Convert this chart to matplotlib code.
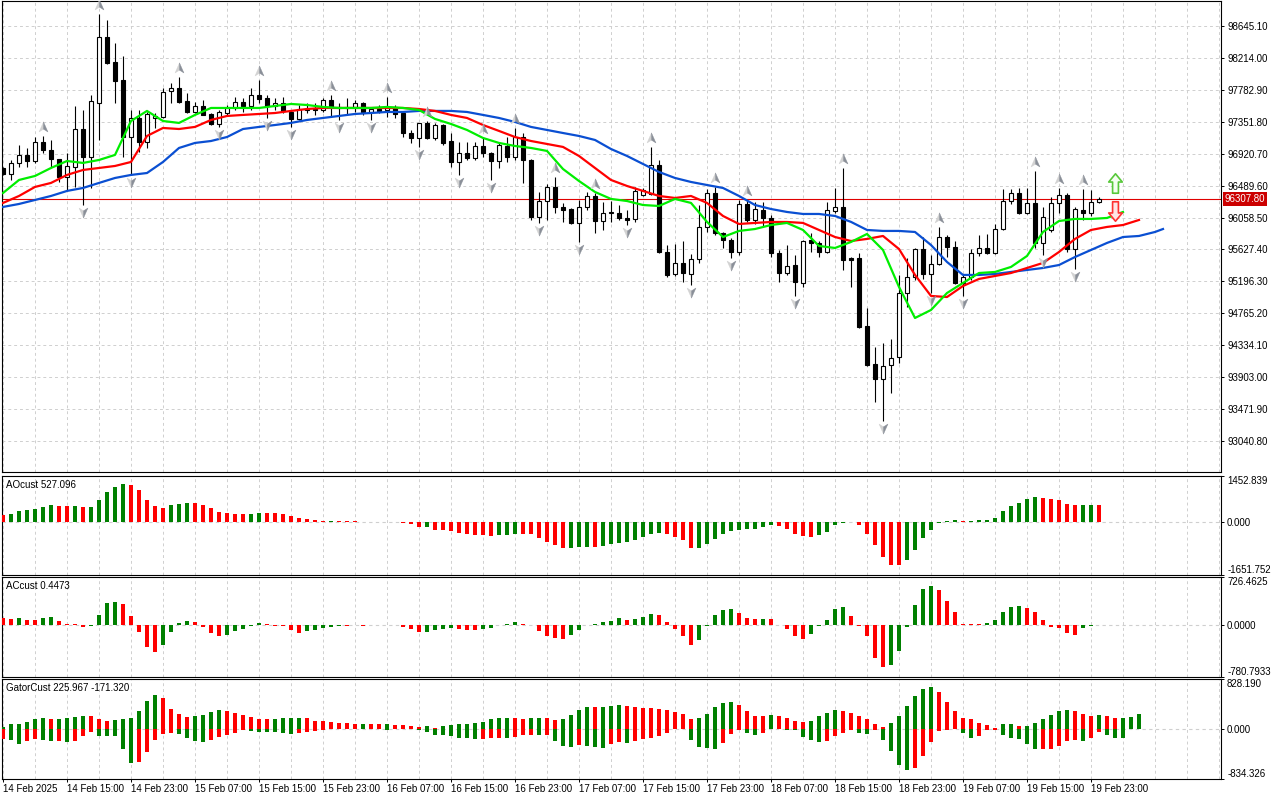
import numpy as np
import matplotlib
matplotlib.use("Agg")
import matplotlib.pyplot as plt
import matplotlib.transforms as mtransforms
from matplotlib.path import Path

plt.rcParams['font.family'] = ['Liberation Sans', 'DejaVu Sans']
plt.rcParams['font.size'] = 7

# ---------------- data (hourly candles, 14 Feb 2025 -> 20 Feb 2025) ----------------
opens = [96728, 96647, 96796, 96904, 96823, 97079, 96971, 96850, 96607, 96742,
         97255, 96877, 97606, 98497, 98159, 97916, 97147, 97403, 97079, 97403,
         97416, 97768, 97808, 97633, 97484, 97565, 97457, 97322, 97470, 97538,
         97619, 97565, 97714, 97673, 97565, 97606, 97484, 97390, 97511, 97524,
         97511, 97646, 97552, 97538, 97552, 97606, 97484, 97524, 97511, 97552,
         97470, 97200, 97133, 97336, 97133, 97308, 97092, 96809, 96931, 96863,
         97025, 96931, 96823, 97025, 96877, 97147, 96836, 96066, 96282, 96472,
         96202, 96174, 95986, 96202, 96350, 96012, 96120, 96120, 96053, 96040,
         96364, 96377, 96768, 95594, 95297, 95446, 95297, 95500, 95932, 96390,
         95850, 95756, 95594, 96242, 96026, 96161, 96053, 95580, 95310, 95418,
         95176, 95756, 95716, 95594, 96148, 96202, 95513, 95513, 94595, 94082,
         93880, 94068, 94176, 95040, 95256, 95634, 95297, 95432, 95796, 95662,
         95176, 95256, 95580, 95648, 95580, 95904, 96282, 96390, 96120, 96256,
         95716, 95891, 96256, 96364, 95634, 96161, 96120, 96269]
highs = [96742, 96836, 97039, 96998, 97147, 97160, 97106, 96850, 96931, 97565,
         97511, 97714, 98807, 98726, 98416, 98240, 97511, 97511, 97484, 97470,
         97808, 97876, 97956, 97740, 97619, 97646, 97470, 97511, 97578, 97686,
         97673, 97808, 97916, 97714, 97673, 97686, 97511, 97578, 97606, 97606,
         97673, 97714, 97606, 97673, 97646, 97619, 97552, 97578, 97686, 97578,
         97484, 97241, 97336, 97362, 97336, 97322, 97200, 97079, 97079, 97079,
         97133, 96944, 97079, 97147, 97268, 97200, 96850, 96404, 96512, 96607,
         96256, 96188, 96296, 96404, 96390, 96269, 96282, 96229, 96161, 96472,
         96458, 97012, 96836, 95688, 95702, 95742, 95567, 96228, 96444, 96472,
         95864, 95783, 96296, 96296, 96269, 96269, 96094, 95621, 95688, 95554,
         95756, 95850, 95742, 96269, 96458, 96728, 95526, 95580, 94838, 94312,
         94366, 94420, 95284, 95513, 95648, 95796, 95554, 95932, 95824, 95742,
         95297, 95634, 95824, 95837, 95972, 96444, 96444, 96458, 96458, 96688,
         96202, 96336, 96458, 96390, 96202, 96444, 96431, 96336]
lows = [96634, 96566, 96742, 96742, 96796, 96931, 96742, 96539, 96431, 96472,
        96229, 96458, 97106, 98132, 97606, 96877, 96634, 96944, 96998, 97268,
        97403, 97606, 97606, 97470, 97470, 97444, 97308, 97282, 97444, 97511,
        97484, 97511, 97606, 97403, 97511, 97470, 97282, 97376, 97470, 97444,
        97484, 97416, 97376, 97444, 97484, 97444, 97376, 97470, 97416, 97403,
        97147, 97066, 97012, 97120, 97106, 97039, 96742, 96634, 96836, 96836,
        96877, 96566, 96728, 96809, 96836, 96526, 96026, 95986, 96026, 96120,
        95999, 95972, 95729, 96161, 95850, 95891, 95999, 96026, 95958, 95999,
        96350, 96364, 95580, 95256, 95270, 95189, 95148, 95446, 95864, 95824,
        95648, 95513, 95554, 95999, 95972, 95932, 95526, 95189, 95284, 95000,
        95122, 95594, 95526, 95580, 96120, 95351, 95122, 94568, 94055, 93569,
        93312, 93690, 94096, 94852, 95216, 95230, 95040, 95418, 95526, 95162,
        95000, 95216, 95540, 95567, 95567, 95891, 96242, 96107, 96107, 95648,
        95554, 95864, 96120, 95594, 95364, 96026, 96080, 96256]
closes = [96647, 96796, 96904, 96823, 97079, 96971, 96850, 96607, 96755, 97255,
          96877, 97633, 98497, 98146, 97903, 97147, 97403, 97079, 97457, 97430,
          97754, 97808, 97619, 97484, 97565, 97444, 97322, 97484, 97538, 97619,
          97565, 97714, 97660, 97565, 97606, 97498, 97390, 97524, 97524, 97511,
          97646, 97552, 97538, 97552, 97606, 97484, 97524, 97498, 97552, 97457,
          97200, 97133, 97336, 97133, 97308, 97066, 96809, 96931, 96863, 97025,
          96931, 96823, 97039, 96877, 97147, 96836, 96066, 96282, 96472, 96202,
          96161, 95986, 96202, 96350, 96012, 96120, 96134, 96053, 96026, 96418,
          96431, 96768, 95594, 95284, 95446, 95310, 95500, 95932, 96390, 95850,
          95756, 95594, 96242, 96026, 96174, 96053, 95580, 95310, 95405, 95189,
          95742, 95716, 95594, 96161, 96202, 95486, 95486, 94582, 94068, 93880,
          94055, 94163, 95040, 95256, 95634, 95297, 95432, 95796, 95662, 95176,
          95256, 95580, 95648, 95580, 95904, 96282, 96390, 96120, 96256, 95716,
          96066, 96256, 96364, 95634, 96174, 96120, 96269, 96307.8]

# Alligator lines (sampled every second bar, shifted forward as on the chart)
jaw_bars = list(range(0, 145, 2)) + [145]
jaw = [96202, 96242, 96296, 96350, 96418, 96458, 96526, 96593, 96634, 96660,
       96809, 96998, 97066, 97092, 97146, 97254, 97282, 97308, 97336, 97376,
       97403, 97430, 97457, 97470, 97484, 97484, 97498, 97498, 97498, 97484,
       97444, 97403, 97349, 97282, 97241, 97200, 97160, 97106, 96984, 96890,
       96782, 96674, 96593, 96539, 96498, 96458, 96350, 96228, 96174, 96134,
       96107, 96107, 96080, 96000, 95891, 95878, 95878, 95864, 95688, 95459,
       95284, 95284, 95297, 95324, 95351, 95378, 95418, 95526, 95621, 95716,
       95796, 95810, 95864, 95904]
teeth_bars = list(range(0, 143, 2))
teeth = [96256, 96350, 96472, 96526, 96634, 96701, 96728, 96755, 96809, 97160,
         97268, 97254, 97282, 97376, 97430, 97444, 97457, 97470, 97498, 97524,
         97538, 97538, 97538, 97538, 97538, 97538, 97524, 97498, 97444, 97403,
         97308, 97228, 97146, 97092, 97052, 97012, 96890, 96728, 96566, 96485,
         96418, 96350, 96323, 96350, 96256, 96080, 95972, 95986, 95999, 95999,
         95986, 95891, 95796, 95742, 95770, 95810, 95634, 95284, 95000, 94986,
         95135, 95230, 95270, 95310, 95378, 95446, 95594, 95770, 95891, 95932,
         95958, 96026]
lips_bars = list(range(0, 141, 2))
lips = [96390, 96566, 96620, 96728, 96822, 96796, 96836, 96904, 97362, 97498,
        97362, 97336, 97444, 97538, 97538, 97538, 97538, 97565, 97592, 97578,
        97552, 97538, 97538, 97538, 97552, 97538, 97511, 97390, 97322, 97241,
        97133, 97066, 97025, 96998, 96958, 96714, 96552, 96404, 96310, 96282,
        96228, 96215, 96310, 96256, 96000, 95796, 95878, 95904, 95958, 95986,
        95891, 95675, 95648, 95729, 95837, 95621, 95122, 94703, 94811, 95040,
        95176, 95310, 95324, 95392, 95540, 95864, 96012, 96040, 96040, 96053,
        96134]

up_fractals = [5, 12, 22, 32, 41, 48, 53, 60, 64, 69, 74, 81, 89, 93, 105,
               117, 129, 132, 135]
down_fractals = [10, 16, 27, 33, 36, 42, 46, 52, 57, 61, 67, 72, 78, 86, 91,
                 99, 110, 116, 120, 130, 134]

signal_bar = 139
buy_arrow_price = 96526
sell_arrow_price = 96148

price_ticks = [98645.10, 98214.00, 97782.90, 97351.80, 96920.70, 96489.60,
               96058.50, 95627.40, 95196.30, 94765.20, 94334.10, 93903.00,
               93471.90, 93040.80]
price_range = (92617, 98982)

ao = [209, 261, 345, 366, 397, 470, 543, 512, 505, 512,
      481, 485, 679, 940, 1108, 1191, 1170, 993, 700, 512,
      449, 543, 575, 596, 590, 522, 449, 313, 282, 251,
      240, 251, 282, 275, 270, 261, 199, 115, 94, 63,
      35, 40, 31, 25, 18, 8, 3, 5, 8, 2,
      -31, -52, -157, -145, -261, -265, -270, -334, -366, -418,
      -420, -449, -397, -392, -366, -370, -387, -512, -617, -721,
      -805, -800, -795, -790, -798, -752, -700, -648, -640, -575,
      -481, -366, -334, -366, -460, -575, -815, -800, -679, -522,
      -387, -293, -261, -230, -209, -157, -105, -136, -230, -366,
      -449, -455, -397, -313, -105, -31, -5, -105, -366, -731,
      -1108, -1337, -1358, -1202, -867, -491, -240, -31, 21, 63,
      21, 31, 52, 63, 125, 334, 502, 596, 732, 784,
      763, 711, 680, 554, 523, 540, 545, 527.096]
ac = [104, 94, 109, 78, 75, 109, 119, 63, 18, 13,
      -33, -18, 154, 336, 352, 321, 139, -99, -326, -402,
      -296, -99, 28, 63, 43, -33, -114, -159, -155, -94,
      -58, -13, 33, 18, -8, -18, -68, -114, -83, -68,
      -48, -23, -8, -10, -3, -8, -3, 5, 8, 3,
      -33, -63, -109, -99, -73, -58, -43, -58, -68, -70,
      -58, -48, 3, 13, 48, 18, 8, -83, -159, -195,
      -210, -149, -68, 3, 18, 53, 68, 109, 83, 94,
      119, 169, 154, 43, -58, -159, -296, -220, -8, 154,
      230, 245, 180, 104, 89, 94, 88, 8, -58, -159,
      -210, -134, -8, 83, 245, 271, 134, -8, -159, -503,
      -640, -599, -387, -33, 306, 549, 594, 534, 367, 195,
      18, 15, 13, 28, 83, 195, 271, 286, 260, 195,
      83, -23, -43, -119, -144, -43, -8, 0.4473]
gator_up = [30, 75, 78, 119, 169, 172, 165, 170, 185, 202,
            218, 215, 168, 134, 151, 155, 185, 302, 470, 554,
            504, 336, 252, 202, 218, 235, 286, 319, 302, 269,
            235, 202, 168, 158, 169, 172, 175, 186, 180, 136,
            130, 113, 97, 91, 86, 88, 84, 75, 78, 69,
            64, 53, 35, 40, 19, 42, 69, 86, 88, 90,
            113, 169, 172, 180, 178, 169, 186, 188, 180, 150,
            157, 224, 308, 358, 355, 360, 375, 392, 375, 358,
            342, 338, 325, 308, 274, 241, 157, 174, 241, 358,
            426, 442, 392, 291, 207, 205, 224, 220, 174, 123,
            106, 123, 207, 258, 308, 291, 258, 207, 157, 73,
            22, 90, 207, 375, 543, 661, 694, 610, 442, 291,
            174, 157, 90, 56, 17, 73, 75, 39, 42, 90,
            157, 224, 291, 308, 291, 241, 215, 225.967, 215, 174,
            178, 190, 241]
gator_down = [-163, -191, -258, -208, -163, -191, -200, -195, -213, -196,
              -112, -45, -112, -115, -118, -330, -566, -549, -381, -179,
              -78, -76, -80, -146, -196, -213, -179, -129, -95, -62,
              -28, -30, -45, -50, -60, -75, -90, -70, -55, -40,
              -20, -10, -5, -8, -4, -6, -3, -8, -14, -8,
              -4, -10, -18, -45, -95, -110, -125, -145, -160, -175,
              -170, -160, -150, -155, -130, -110, -95, -100, -95, -200,
              -291, -308, -274, -291, -308, -325, -258, -224, -228, -207,
              -174, -157, -123, -73, -11, -5, -190, -308, -325, -342,
              -241, -90, -22, -73, -106, -73, -11, -6, -22, -25,
              -140, -190, -224, -207, -123, -73, -22, -73, -90, -22,
              -190, -375, -594, -678, -644, -459, -224, -39, -22, -11,
              -73, -157, -123, -22, -18, -106, -157, -174, -258, -342,
              -340, -335, -291, -207, -179, -207, -157, -56, -106, -157,
              -160]
gator_down_label = -171.320

ao_range = (-1651.752, 1452.839)
ac_range = (-780.7933, 726.4625)
gator_range = (-834.326, 828.190)

time_labels = ['14 Feb 2025', '14 Feb 15:00', '14 Feb 23:00', '15 Feb 07:00',
               '15 Feb 15:00', '15 Feb 23:00', '16 Feb 07:00', '16 Feb 15:00',
               '16 Feb 23:00', '17 Feb 07:00', '17 Feb 15:00', '17 Feb 23:00',
               '18 Feb 07:00', '18 Feb 15:00', '18 Feb 23:00', '19 Feb 07:00',
               '19 Feb 15:00', '19 Feb 23:00']
label_bars = list(range(0, 8 * len(time_labels), 8))

# ---------------- figure ----------------
GREEN = '#008000'
RED = '#ff0000'
GRID = '#cfcfcf'
W, H = 1280, 800
fig = plt.figure(figsize=(W / 100, H / 100), dpi=100)


def px_axes(top, bottom, left=1.5, right=1221):
    return fig.add_axes([left / W, 1 - bottom / H, (right - left) / W, (bottom - top) / H])


ax = px_axes(1, 472.5)
ax_ao = px_axes(475.7, 574.7)
ax_ac = px_axes(577.3, 676.7)
ax_gt = px_axes(679, 779)
all_axes = [ax, ax_ao, ax_ac, ax_gt]

for a in all_axes:
    a.set_xlim(-0.1875, 152.25)
    for s in a.spines.values():
        s.set_color('black')
        s.set_linewidth(0.8)
    for b in range(0, 153, 4):
        a.axvline(b, color=GRID, lw=0.7, ls=(0, (3, 3)), zorder=0)
    a.tick_params(axis='x', bottom=False, labelbottom=False)
    a.yaxis.tick_right()
    a.tick_params(axis='y', direction='out', length=2.2, width=0.7, pad=2.2, labelsize=7)

# ---- main price chart ----
o = np.array(opens, dtype=float)
h = np.array(highs, dtype=float)
l = np.array(lows, dtype=float)
c = np.array(closes, dtype=float)
idx = np.arange(len(o))
bull = c >= o

ax.set_ylim(*price_range)
ax.set_yticks(price_ticks)
ax.set_yticklabels(['%.2f' % p for p in price_ticks])
for p in price_ticks:
    ax.axhline(p, color=GRID, lw=0.7, ls=(0, (3, 3)), zorder=0)

ax.axhline(c[-1], color='#e00000', lw=0.8, zorder=2)
ax.vlines(idx, l, h, color='black', lw=0.8, zorder=3)
ax.bar(idx, np.abs(c - o), bottom=np.minimum(o, c), width=0.62,
       color=['white' if b else 'black' for b in bull],
       edgecolor='black', linewidth=0.8, zorder=4)

ax.plot(jaw_bars, jaw, color='#0a4fd2', lw=1.6, zorder=6)
ax.plot(teeth_bars, teeth, color='#ff0000', lw=1.6, zorder=7)
ax.plot(lips_bars, lips, color='#00ee00', lw=1.6, zorder=8)

# fractal arrows
left_half = Path([(0, 1), (0, -0.3), (-0.8, -0.8), (0, 1)],
                 [Path.MOVETO, Path.LINETO, Path.LINETO, Path.CLOSEPOLY])
right_half = Path([(0, 1), (0.8, -0.8), (0, -0.3), (0, 1)],
                  [Path.MOVETO, Path.LINETO, Path.LINETO, Path.CLOSEPOLY])
flip = mtransforms.Affine2D().scale(1, -1)
up_tr = mtransforms.offset_copy(ax.transData, fig=fig, y=6.5, units='points')
dn_tr = mtransforms.offset_copy(ax.transData, fig=fig, y=-5.2, units='points')
for path, col in [(left_half, '#d2d2d2'), (right_half, '#8a8f98')]:
    ax.plot(up_fractals, h[up_fractals], ls='none', marker=path, ms=8,
            mfc=col, mec=col, mew=0.3, transform=up_tr, zorder=9)
    ax.plot(down_fractals, l[down_fractals], ls='none',
            marker=path.transformed(flip), ms=8,
            mfc=col, mec=col, mew=0.3, transform=dn_tr, zorder=9)

# signal block arrows
block_up = Path([(0, 1), (0.7, 0.15), (0.3, 0.15), (0.3, -1), (-0.3, -1),
                 (-0.3, 0.15), (-0.7, 0.15), (0, 1)],
                [Path.MOVETO] + [Path.LINETO] * 6 + [Path.CLOSEPOLY])
ax.plot([signal_bar], [buy_arrow_price], ls='none', marker=block_up, ms=14,
        mfc='#f4fff0', mec='#58c83a', mew=1.2, zorder=10)
ax.plot([signal_bar], [sell_arrow_price], ls='none',
        marker=block_up.transformed(flip), ms=14,
        mfc='#ffe4e4', mec='#ff3030', mew=1.2, zorder=10)

# current price tag
ax.annotate('%.2f' % c[-1], xy=(1, c[-1]), xycoords=('axes fraction', 'data'),
            xytext=(2.4, 0), textcoords='offset points', va='center', ha='left',
            color='white', fontsize=7, annotation_clip=False, zorder=20,
            bbox=dict(boxstyle='square,pad=0.18', fc='#cc0000', ec='none'))


# ---- indicator panels ----
def trend_colors(vals, first, use_abs=False):
    v = np.abs(np.asarray(vals, dtype=float)) if use_abs else np.asarray(vals, dtype=float)
    cols = [first]
    for a, b in zip(v[:-1], v[1:]):
        cols.append(GREEN if b > a else RED)
    return cols


def setup_panel(a, rng, fmt, title):
    a.set_ylim(*rng)
    a.axhline(0, color=GRID, lw=0.8, ls=(0, (3, 3)), zorder=0)
    a.set_yticks([rng[0], 0, rng[1]])
    labs = a.set_yticklabels([fmt % rng[0], fmt % 0, fmt % rng[1]])
    labs[0].set_va('bottom')
    labs[2].set_va('top')
    a.annotate(title, xy=(0, 1), xycoords='axes fraction', xytext=(3, -3),
               textcoords='offset points', va='top', ha='left', fontsize=7, zorder=20)


setup_panel(ax_ao, ao_range, '%.3f', 'AOcust %.3f' % ao[-1])
ax_ao.bar(np.arange(len(ao)), ao, width=0.5, color=trend_colors(ao, RED), zorder=3)

setup_panel(ax_ac, ac_range, '%.4f', 'ACcust %.4f' % ac[-1])
ax_ac.bar(np.arange(len(ac)), ac, width=0.5, color=trend_colors(ac, RED), zorder=3)

setup_panel(ax_gt, gator_range, '%.3f',
            'GatorCust %.3f %.3f' % (gator_up[len(c) - 1], gator_down_label))
ax_gt.bar(np.arange(len(gator_up)), gator_up, width=0.5,
          color=trend_colors(gator_up, GREEN), zorder=3)
ax_gt.bar(np.arange(len(gator_down)), gator_down, width=0.5,
          color=trend_colors(gator_down, RED, use_abs=True), zorder=3)

ax_gt.tick_params(axis='x', bottom=True, labelbottom=True, direction='out',
                  length=2.2, width=0.7, pad=1.5, labelsize=7)
ax_gt.set_xticks(label_bars)
ax_gt.set_xticklabels(time_labels, ha='left')

fig.savefig('out.png', dpi=100)
